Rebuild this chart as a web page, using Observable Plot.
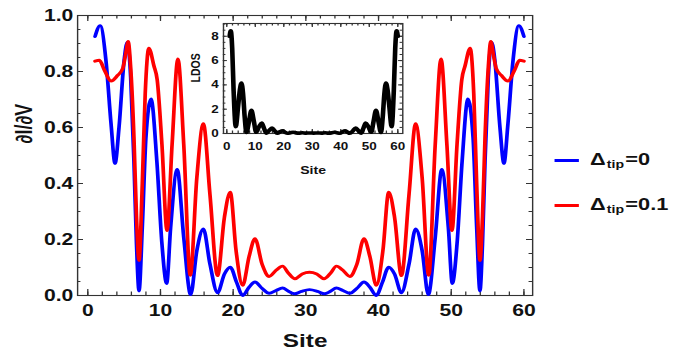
<!DOCTYPE html>
<html><head><meta charset="utf-8">
<script src="https://cdn.jsdelivr.net/npm/d3@7"></script>
<script src="https://cdn.jsdelivr.net/npm/@observablehq/plot@0.6"></script>
<style>
body{margin:0;background:#fff;}
#wrap{position:relative;width:538px;height:355px;transform:scaleX(1.2807);transform-origin:0 0;font-family:"Liberation Sans",Arial,sans-serif;font-weight:bold;color:#111;}
#wrap > svg, #wrap > div{position:absolute;}
.leg{position:absolute;display:flex;align-items:center;height:24px;font-size:17px;white-space:nowrap;}
.leg .sw{display:inline-block;width:19.5px;height:0;border-top:3px solid;margin-right:8.5px;}
.leg sub{font-size:11px;vertical-align:baseline;position:relative;top:3px;margin:0 1px;}
</style></head><body><div id="wrap"></div>
<script>
// ---- data ----
const blueSite = [1.0,1.7,2.5,3.2,3.75,4.3,5.0,5.45,5.9,6.35,6.7,7.05,7.5,8.0,8.7,9.5,10.2,10.85,11.4,12.3,13.2,14.15,15.0,15.9,16.8,17.85,18.8,19.6,20.5,21.3,22.2,23.0,24.0,24.95,25.9,26.8,27.6,28.45,29.4,30.5,31.6,32.55,33.4,34.2,35.1,36.05,37.0,38.0,38.8,39.7,40.5,41.4,42.2,43.15,44.2,45.1,46.0,46.85,47.8,48.7,49.6,50.15,50.8,51.5,52.3,53.0,53.5,53.95,54.3,54.65,55.1,55.55,56.0,56.7,57.25,57.8,58.5,59.3,60.0];
const blueVal  = [0.925,0.964,0.839,0.613,0.472,0.601,0.84,0.905,0.78,0.48,0.185,0.016,0.244,0.565,0.702,0.48,0.185,0.043,0.244,0.45,0.208,0.003,0.16,0.238,0.113,0.01,0.077,0.101,0.045,0.0,0.03,0.048,0.025,0.008,0.018,0.027,0.015,0.006,0.015,0.021,0.015,0.006,0.015,0.027,0.018,0.008,0.025,0.048,0.03,0.0,0.045,0.101,0.077,0.01,0.113,0.238,0.16,0.003,0.208,0.45,0.244,0.043,0.185,0.48,0.702,0.565,0.244,0.016,0.185,0.48,0.78,0.905,0.84,0.601,0.472,0.613,0.839,0.964,0.925];

const redSite = [1.0,1.6,2.3,3.2,4.1,4.8,5.2,5.55,5.9,6.35,6.7,7.05,7.5,7.9,8.4,9.1,9.55,10.2,10.9,11.6,12.4,13.2,14.1,15.0,15.9,16.8,17.85,18.8,19.6,20.4,21.3,22.2,23.0,24.0,24.95,25.9,26.8,27.6,28.5,29.5,30.5,31.5,32.5,33.4,34.2,35.1,36.05,37.0,38.0,38.8,39.7,40.6,41.4,42.2,43.15,44.2,45.1,46.0,46.9,47.8,48.6,49.4,50.1,50.8,51.45,51.9,52.6,53.1,53.5,53.95,54.3,54.65,55.1,55.45,55.8,56.2,56.9,57.8,58.7,59.4,60.0];
const redVal  = [0.837,0.84,0.804,0.766,0.786,0.81,0.86,0.907,0.815,0.565,0.28,0.125,0.40,0.72,0.883,0.82,0.77,0.54,0.232,0.54,0.845,0.54,0.072,0.42,0.614,0.363,0.071,0.28,0.369,0.16,0.036,0.14,0.203,0.11,0.068,0.09,0.105,0.08,0.06,0.077,0.083,0.077,0.06,0.08,0.105,0.09,0.068,0.11,0.203,0.14,0.036,0.16,0.369,0.28,0.071,0.363,0.614,0.42,0.072,0.54,0.845,0.54,0.232,0.54,0.77,0.82,0.883,0.72,0.40,0.125,0.28,0.565,0.815,0.907,0.86,0.81,0.786,0.766,0.804,0.84,0.837];

const ldosSite = [1.0,1.4,1.9,2.4,3.15,4.0,4.6,5.15,5.7,6.3,6.9,7.8,8.65,9.5,10.3,11.3,12.25,13.1,13.9,15.0,15.9,16.9,17.8,18.7,19.5,20.4,21.3,22.4,23.3,24.3,25.3,26.5,27.8,29.0,30.5,32.0,33.2,34.5,35.7,36.7,37.7,38.6,39.7,40.6,41.5,42.3,43.2,44.2,45.2,46.0,47.1,47.9,48.75,49.7,50.7,51.5,52.35,53.2,54.1,54.7,55.3,55.85,56.4,57.0,57.85,58.6,59.1,59.6,60.0];
const ldosVal  = [8.0,8.45,7.0,3.5,0.56,2.3,3.6,4.15,3.3,1.3,0.08,1.0,1.9,1.0,0.1,0.55,0.85,0.4,0.03,0.28,0.45,0.2,0.02,0.14,0.23,0.1,0.02,0.07,0.1,0.05,0.03,0.06,0.03,0.04,0.03,0.04,0.03,0.06,0.03,0.05,0.1,0.07,0.02,0.14,0.23,0.12,0.02,0.2,0.45,0.28,0.03,0.4,0.85,0.55,0.1,1.0,1.9,1.0,0.08,1.3,3.3,4.15,3.6,2.3,0.56,3.5,7.0,8.45,8.0];

const seriesNames = ["tip=0", "tip=0.1"];
const seriesColors = ["#0000ff", "#ff0000"];

const mainXTicks = [0,10,20,30,40,50,60];
const mainXMinor = d3.range(0, 61, 2);
const mainYTicks = [0,0.2,0.4,0.6,0.8,1.0];
const mainYMinor = d3.range(0, 1.001, 0.05);
const insetXTicks = [0,10,20,30,40,50,60];
const insetXMinor = d3.range(0, 61, 2);
const insetYTicks = [0,2,4,6,8];
const insetYMinor = d3.range(0, 9.01, 0.5);

const blue = blueSite.map((s,i)=>({site:s, v:blueVal[i]}));
const red = redSite.map((s,i)=>({site:s, v:redVal[i]}));
const ldos = ldosSite.map((s,i)=>({site:s, v:ldosVal[i]}));

const FONT = '"Liberation Sans", Arial, sans-serif';
const FRAME = "#333";

// ---- main plot ----
const W = 538, H = 355, mL = 60.1, mR = 122.6, mT = 15, mB = 60;
const iw = W - mL - mR, ih = H - mT - mB;
const xMaj = 6, xMin = 3.5, yMaj = 4.7, yMin = 2.7;

const main = Plot.plot({
  width: W, height: H, marginLeft: mL, marginRight: mR, marginTop: mT, marginBottom: mB,
  style: {fontFamily: FONT, fontWeight: "bold", background: "transparent", overflow: "visible", color: "#111"},
  x: {domain: [-1.4, 61.2], label: null},
  y: {domain: [0, 1], label: null},
  marks: [
    Plot.frame({stroke: FRAME, strokeWidth: 1.1}),
    Plot.tickX(mainXMinor, {x: d=>d, insetTop: ih - xMin, stroke: FRAME}),
    Plot.tickX(mainXTicks, {x: d=>d, insetTop: ih - xMaj, stroke: FRAME}),
    Plot.tickX(mainXMinor, {x: d=>d, insetBottom: ih - xMin, stroke: FRAME}),
    Plot.tickX(mainXTicks, {x: d=>d, insetBottom: ih - xMaj, stroke: FRAME}),
    Plot.tickY(mainYMinor, {y: d=>d, insetRight: iw - yMin, stroke: FRAME}),
    Plot.tickY(mainYTicks, {y: d=>d, insetRight: iw - yMaj, stroke: FRAME}),
    Plot.tickY(mainYMinor, {y: d=>d, insetLeft: iw - yMin, stroke: FRAME}),
    Plot.tickY(mainYTicks, {y: d=>d, insetLeft: iw - yMaj, stroke: FRAME}),
    Plot.axisX(mainXTicks, {anchor: "bottom", tickSize: 0, tickPadding: 8.5, fontSize: 16.5, fontWeight: "bold", label: null, tickFormat: d=>String(d)}),
    Plot.axisY(mainYTicks, {anchor: "left", tickSize: 0, tickPadding: 3.4, fontSize: 16.5, fontWeight: "bold", label: null, tickFormat: d3.format(".1f")}),
    Plot.text(["Site"], {text: d=>d, frameAnchor: "bottom", dy: 45, lineAnchor: "middle", fontSize: 19, fontWeight: "bold", fill: "#111"}),
    Plot.text(["\u2202I/\u2202V"], {text: d=>d, frameAnchor: "left", dx: -41.4, dy: -12, rotate: -90, lineAnchor: "middle", fontSize: 18, fontWeight: "bold", fill: "#111"}),
    Plot.line(blue, {x: "site", y: "v", stroke: seriesColors[0], strokeWidth: 2.9, curve: "monotone-x"}),
    Plot.line(red, {x: "site", y: "v", stroke: seriesColors[1], strokeWidth: 2.9, curve: "monotone-x"})
  ]
});
main.style.left = "0px"; main.style.top = "0px";

// ---- inset ----
const IW = 178, IH = 160, iL = 30, iR = 8, iT = 5, iB = 45;
const iiw = IW - iL - iR, iih = IH - iT - iB;
const inset = Plot.plot({
  width: IW, height: IH, marginLeft: iL, marginRight: iR, marginTop: iT, marginBottom: iB,
  style: {fontFamily: FONT, fontWeight: "bold", background: "transparent", overflow: "visible", color: "#111"},
  x: {domain: [-1.16, 61.75], label: null},
  y: {domain: [0, 9.05], label: null},
  marks: [
    Plot.frame({stroke: FRAME, strokeWidth: 1.1}),
    Plot.tickX(insetXMinor, {x: d=>d, insetTop: iih - 2.5, stroke: FRAME}),
    Plot.tickX(insetXTicks, {x: d=>d, insetTop: iih - 4, stroke: FRAME}),
    Plot.tickX(insetXMinor, {x: d=>d, insetBottom: iih - 2.5, stroke: FRAME}),
    Plot.tickX(insetXTicks, {x: d=>d, insetBottom: iih - 4, stroke: FRAME}),
    Plot.tickY(insetYMinor, {y: d=>d, insetRight: iiw - 2, stroke: FRAME}),
    Plot.tickY(insetYTicks, {y: d=>d, insetRight: iiw - 3.2, stroke: FRAME}),
    Plot.tickY(insetYMinor, {y: d=>d, insetLeft: iiw - 2, stroke: FRAME}),
    Plot.tickY(insetYTicks, {y: d=>d, insetLeft: iiw - 3.2, stroke: FRAME}),
    Plot.axisX(insetXTicks, {anchor: "bottom", tickSize: 0, tickPadding: 9, fontSize: 10.5, fontWeight: "bold", label: null, tickFormat: d=>String(d)}),
    Plot.axisY(insetYTicks, {anchor: "left", tickSize: 0, tickPadding: 3.7, fontSize: 10.5, fontWeight: "bold", label: null, tickFormat: d=>String(d)}),
    Plot.text(["Site"], {text: d=>d, frameAnchor: "bottom", dy: 37, lineAnchor: "middle", fontSize: 11, fontWeight: "bold", fill: "#111"}),
    Plot.text(["LDOS"], {text: d=>d, frameAnchor: "left", dx: -21.6, dy: 4, rotate: -90, lineAnchor: "middle", fontSize: 10.5, fontWeight: "bold", fill: "#111"}),
    Plot.line(ldos, {x: "site", y: "v", stroke: "#000", strokeWidth: 3.6, curve: "monotone-x"})
  ]
});
inset.style.left = (173.9 - iL) + "px"; inset.style.top = (23 - iT) + "px";

const wrap = document.getElementById("wrap");
wrap.appendChild(main);
wrap.appendChild(inset);

// ---- legend ----
const legTops = [148, 193];
seriesNames.forEach((name, i) => {
  const [sub, rest] = name.split("=");
  const d = document.createElement("div");
  d.className = "leg";
  d.style.left = "432.6px";
  d.style.top = legTops[i] + "px";
  d.innerHTML = `<span class="sw" style="border-color:${seriesColors[i]}"></span><span>\u0394<sub>${sub}</sub>=${rest}</span>`;
  wrap.appendChild(d);
});
</script></body></html>
